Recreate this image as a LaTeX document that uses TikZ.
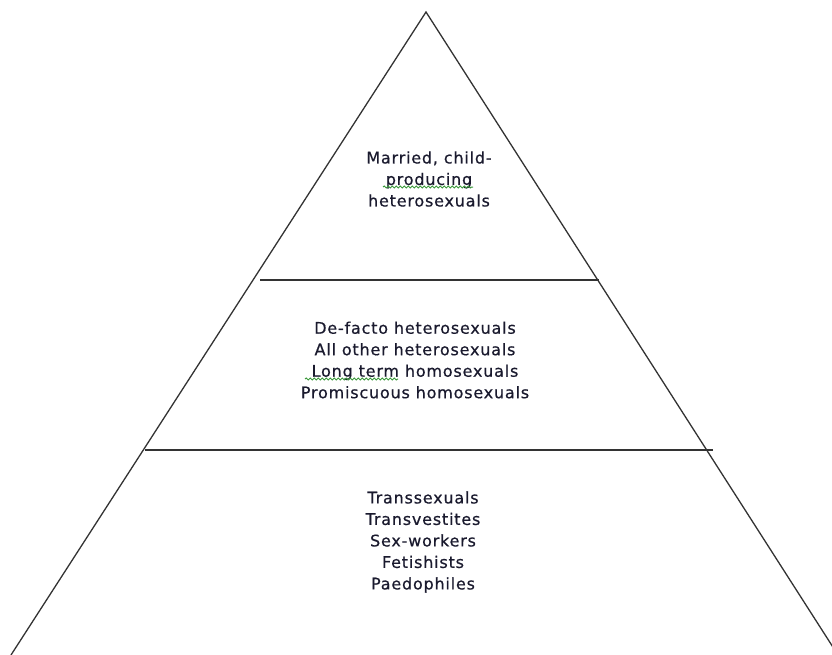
\documentclass[tikz,border=0pt]{standalone}
\usepackage{fontspec}
\setmainfont{DejaVu Sans}[LetterSpace=5,FakeBold=0.6]
\usepackage{tikz}
\usetikzlibrary{decorations.pathmorphing}
\definecolor{ink}{HTML}{1A1A2E}
\definecolor{edge}{HTML}{333333}
\definecolor{spell}{HTML}{3C9A3C}
\tikzset{
  side/.style={draw=edge,line width=1.3bp,line join=miter},
  divider/.style={draw=edge,line width=1.3bp},
  tiertext/.style={align=center,text=ink,inner sep=0pt,font=\fontsize{16bp}{21.5bp}\selectfont},
  squiggle/.style={draw=spell,line width=1bp,decorate,decoration={snake,amplitude=1bp,segment length=4bp}}
}
\begin{document}
\begin{tikzpicture}[x=1bp,y=-1bp]
\useasboundingbox (0,0) rectangle (832,655);
\clip (0,0) rectangle (832,655);
% pyramid outline
\coordinate (apex) at (426,12);
\coordinate (baseL) at (11,655);
\coordinate (baseR) at (838,655);
\draw[side] (baseL) -- (apex) -- (baseR);
% tier dividers
\coordinate (d1L) at (260,280);
\coordinate (d1R) at (599,280);
\coordinate (d2L) at (145,450);
\coordinate (d2R) at (713,450);
\draw[divider] (d1L) -- (d1R);
\draw[divider] (d2L) -- (d2R);
% tier labels
\node[tiertext] (top) at (429,179) {Married, child-\\producing\\heterosexuals};
\node[tiertext] (mid) at (415,360) {De-facto heterosexuals\\All other heterosexuals\\Long term homosexuals\\Promiscuous homosexuals};
\node[tiertext] (low) at (423,542) {Transsexuals\\Transvestites\\Sex-workers\\Fetishists\\Paedophiles};
% spell-check marks
\coordinate (sq1a) at (383,187);
\coordinate (sq1b) at (473,187);
\coordinate (sq2a) at (305,379);
\coordinate (sq2b) at (398,379);
\draw[squiggle] (sq1a) -- (sq1b);
\draw[squiggle] (sq2a) -- (sq2b);
\end{tikzpicture}
\end{document}
